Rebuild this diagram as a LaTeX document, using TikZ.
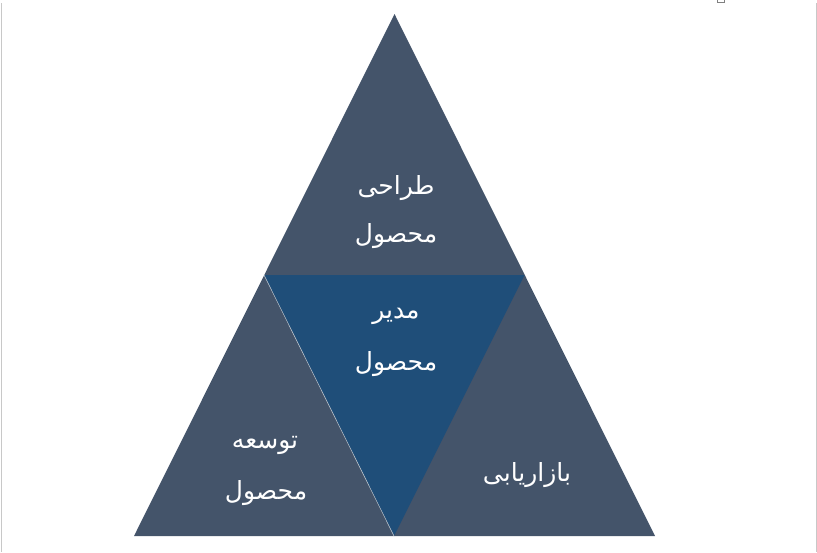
\documentclass[tikz,border=0pt]{standalone}
\usepackage{fontspec}
\TeXXeTstate=1
\newfontfamily\arabicfont[Script=Arabic]{DejaVu Sans}
\definecolor{outerc}{HTML}{44546A}
\definecolor{innerc}{HTML}{1F4E79}
\definecolor{framec}{HTML}{C8C8C8}
\begin{document}
\begin{tikzpicture}[x=1pt,y=-1pt,
  lbl/.style={text=white,font=\arabicfont\fontsize{25}{30}\selectfont,inner sep=0pt,anchor=center}]
\useasboundingbox (0,0) rectangle (817,552);
\coordinate (A) at (394.5,14);
\coordinate (L) at (134,536);
\coordinate (R) at (655,536);
\coordinate (ML) at (264,275);
\coordinate (MR) at (524.5,275);
\coordinate (MB) at (394,536);
\fill[outerc] (A)--(L)--(R)--cycle;
\fill[innerc] (ML)--(MR)--(MB)--cycle;
\draw[line width=0.5pt,color=white!70!outerc] (ML)--(MB);
% frame
\draw[framec,line width=1pt] (1.5,3)--(1.5,552);
\draw[framec,line width=1pt] (816.5,3)--(816.5,552);
\draw[gray,line width=0.6pt] (717,-3) rectangle (724,2.5);
% labels
\node[lbl] (t1) at (396,188) {\beginR طراحی\endR};
\node[lbl] (t2) at (396,236) {\beginR محصول\endR};
\node[lbl] (m1) at (396,316) {\beginR مدیر\endR};
\node[lbl] (m2) at (396,364) {\beginR محصول\endR};
\node[lbl] (l1) at (265,445) {\beginR توسعه\endR};
\node[lbl] (l2) at (266,493) {\beginR محصول\endR};
\node[lbl] (r1) at (527,475) {\beginR بازاریابی\endR};
\end{tikzpicture}
\end{document}
